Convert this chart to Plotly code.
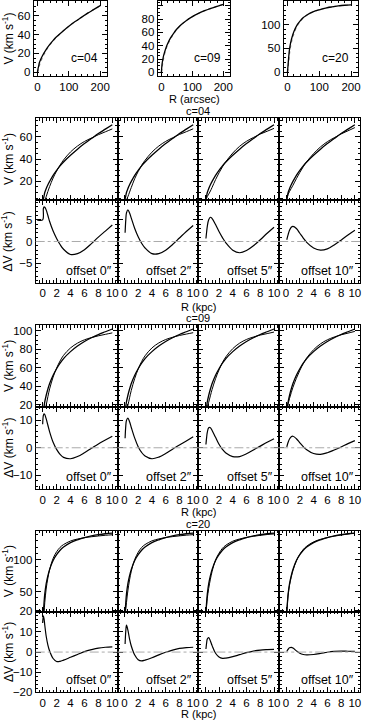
import plotly.graph_objects as go

W, H = 366, 726

# radii
R_ARCSEC = [0, 2, 4, 6, 10, 15, 20, 30, 40, 50, 60, 80, 100, 120, 140, 160, 180, 200]
R_KPC = [0, 0.1, 0.2, 0.3, 0.5, 0.75, 1, 1.5, 2, 2.5, 3, 4, 5, 6, 7, 8, 9, 10]
DV_R = [-0.8, 0.0, 0.1, 0.2, 0.3, 0.5, 0.75, 1, 1.5, 2, 2.5, 3, 4, 5, 6, 7, 8, 9, 10]

OFFSETS = ["offset 0″", "offset 2″", "offset 5″", "offset 10″"]

# model rotation curves (black) and the second curve of the top row (grey)
V_TRUE_04 = [0, 4, 7, 10, 13.5, 17, 20, 25.5, 30, 34, 37.5, 43.5, 49, 54, 58.5, 63, 67, 71]
V_TRUE_09 = [0, 12, 18, 23, 30, 37, 43, 52, 59, 65, 70, 77.5, 83.5, 88.5, 92.5, 96, 99, 102]
V_TRUE_20 = [0, 16, 33, 46, 62, 75, 85, 99, 108, 115, 120, 127, 131.5, 135, 137.5, 139.5, 141, 142]
V_GREY_04 = [0, 2, 4.5, 7, 11, 15, 18.5, 24.5, 29.5, 33.5, 37, 43.5, 49, 54, 58.5, 63, 67, 71]
V_GREY_09 = [0, 7, 13, 18.5, 27, 35, 41, 50.5, 58, 64.5, 69.5, 77.5, 83.5, 88.5, 92.5, 96, 99, 102]
V_GREY_20 = [0, 10, 24, 37, 55, 70, 81, 97, 107, 114.5, 119.5, 127, 131.5, 135, 137.5, 139.5, 141, 142]

# observed curves per offset
V_OBS_04 = [
    [0, -3.6, -1.0, 2.1, 6.2, 11.0, 15.4, 23.1, 29.3, 34.7, 39.3, 46.5, 51.8, 55.9, 59.0, 62.0, 64.6, 67.2],
    [0, 2.0, 2.0, 3.4, 6.2, 10.4, 14.6, 22.5, 28.9, 34.4, 39.0, 46.3, 51.8, 56.0, 59.2, 62.2, 64.7, 67.3],
    [0, 3.3, 4.8, 6.5, 8.5, 11.4, 14.7, 21.6, 27.7, 33.1, 37.8, 45.5, 51.6, 56.1, 59.5, 62.6, 65.1, 67.7],
    [0, 3.6, 6.0, 8.4, 10.9, 13.7, 16.5, 22.5, 28.1, 33.2, 37.7, 45.0, 51.0, 55.7, 59.3, 62.7, 65.5, 68.4],
]
V_OBS_09 = [
    [0, 0.2, 5.6, 10.9, 19.4, 28.8, 37.2, 50.0, 59.6, 67.4, 73.5, 81.5, 86.7, 90.3, 92.7, 94.6, 96.2, 97.8],
    [0, 8.5, 10.0, 13.0, 19.2, 27.5, 35.6, 48.5, 58.6, 66.7, 73.0, 81.5, 86.9, 90.6, 93.0, 95.0, 96.5, 98.0],
    [0, 10.8, 14.2, 17.4, 22.7, 29.7, 36.7, 48.2, 57.7, 65.6, 71.9, 80.7, 86.7, 90.7, 93.3, 95.4, 97.0, 98.7],
    [0, 11.7, 16.8, 21.0, 26.8, 33.0, 38.8, 48.7, 57.2, 64.6, 70.7, 79.6, 85.9, 90.3, 93.3, 95.7, 97.5, 99.4],
]
V_OBS_20 = [
    [0, -2.0, 16.5, 32.5, 54.0, 71.5, 84.5, 102.2, 112.7, 119.6, 124.0, 129.6, 132.7, 134.8, 136.3, 137.5, 138.6, 139.4],
    [0, 12.0, 22.5, 32.6, 51.0, 68.5, 82.0, 100.5, 111.8, 119.4, 124.0, 129.8, 132.9, 135.1, 136.5, 137.7, 138.8, 139.6],
    [0, 14.5, 28.5, 39.5, 54.8, 69.5, 81.8, 99.6, 110.4, 118.1, 123.0, 129.3, 132.8, 135.3, 137.0, 138.5, 139.8, 140.7],
    [0, 15.7, 32.1, 44.6, 59.9, 72.7, 83.0, 98.4, 108.6, 116.2, 121.4, 128.2, 132.2, 135.1, 137.2, 139.0, 140.6, 141.7],
]

# velocity differences per offset
DV_04 = [
    [5, 5, 7.6, 8.0, 7.9, 7.3, 6.0, 4.6, 2.4, 0.7, -0.7, -1.8, -3.0, -2.8, -1.9, -0.5, 1.0, 2.4, 3.8],
    [None, None, 2.0, 5.0, 6.6, 7.3, 6.6, 5.4, 3.0, 1.1, -0.4, -1.5, -2.8, -2.8, -2.0, -0.7, 0.8, 2.3, 3.7],
    [None, None, 0.7, 2.2, 3.5, 5.0, 5.6, 5.3, 3.9, 2.3, 0.9, -0.3, -2.0, -2.6, -2.1, -1.0, 0.4, 1.9, 3.3],
    [None, None, 0.4, 1.0, 1.6, 2.6, 3.3, 3.5, 3.0, 1.9, 0.8, -0.2, -1.5, -2.0, -1.7, -0.8, 0.3, 1.5, 2.6],
]
DV_09 = [
    [None, 8.6, 11.8, 12.4, 12.1, 10.6, 8.2, 5.8, 2.0, -0.6, -2.4, -3.5, -4.0, -3.2, -1.8, -0.2, 1.4, 2.8, 4.2],
    [None, None, 3.5, 8.0, 10.0, 10.8, 9.5, 7.4, 3.5, 0.4, -1.7, -3.0, -4.0, -3.4, -2.1, -0.5, 1.0, 2.5, 4.0],
    [None, None, 1.2, 3.8, 5.6, 7.3, 7.3, 6.3, 3.8, 1.3, -0.6, -1.9, -3.2, -3.2, -2.2, -0.8, 0.6, 2.0, 3.3],
    [None, None, 0.3, 1.2, 2.0, 3.2, 4.0, 4.2, 3.3, 1.8, 0.4, -0.7, -2.1, -2.4, -1.8, -0.8, 0.3, 1.5, 2.6],
]
DV_20 = [
    [None, 14.5, 18.0, 16.5, 13.5, 8.0, 3.5, 0.5, -3.2, -4.7, -4.6, -4.0, -2.6, -1.2, 0.2, 1.2, 2.0, 2.4, 2.6],
    [None, None, 4.0, 10.5, 13.4, 11.0, 6.5, 3.0, -1.5, -3.8, -4.4, -4.0, -2.8, -1.4, -0.1, 1.0, 1.8, 2.2, 2.4],
    [None, None, 1.5, 4.5, 6.5, 7.2, 5.5, 3.2, -0.6, -2.4, -3.1, -3.0, -2.3, -1.3, -0.3, 0.5, 1.0, 1.2, 1.3],
    [None, None, 0.3, 0.9, 1.4, 2.1, 2.3, 2.0, 0.6, -0.6, -1.2, -1.4, -1.2, -0.7, -0.1, 0.3, 0.5, 0.4, 0.3],
]

FONT = "Liberation Sans, Arial, sans-serif"
V_LABEL = "V (km s<sup>-1</sup>)"
DV_LABEL = "ΔV (km s<sup>-1</sup>)"


def xd(a, b):
    return [a / W, b / W]


def yd(top, bottom):
    return [1 - bottom / H, 1 - top / H]


def axis(domain, anchor, rng, tickvals, minor, labels=True):
    return dict(
        domain=domain, anchor=anchor, range=rng, tickvals=tickvals,
        showticklabels=labels, showline=True, linecolor="black", linewidth=1,
        mirror="ticks", ticks="inside", ticklen=5, tickcolor="black",
        showgrid=False, zeroline=False,
        minor=dict(dtick=minor, ticks="inside", ticklen=2.5, tickcolor="black"),
        tickfont=dict(size=11.5, color="black", family=FONT),
    )


fig = go.Figure()
layout = {}
annotations = []
shapes = []
n = [0]


def add_panel(xdom, ydom, xr, xt, xm, yr, yt, ym, xlab, ylab):
    n[0] += 1
    i = n[0]
    s = "" if i == 1 else str(i)
    layout["xaxis" + s] = axis(xdom, "y" + s, xr, xt, xm, xlab)
    layout["yaxis" + s] = axis(ydom, "x" + s, yr, yt, ym, ylab)
    return "x" + s, "y" + s


def text(x, y, t, size=12, xanchor="center", **kw):
    annotations.append(dict(x=x / W, y=1 - y / H, xref="paper", yref="paper", text=t,
                            xanchor=xanchor, yanchor="middle", showarrow=False,
                            font=dict(size=size, color="black", family=FONT), **kw))


# ---- top row: V against R in arcsec
TOP = [
    ("c=04", V_TRUE_04, V_GREY_04, (34, 108), [-4.5, 76], [0, 20, 40, 60], 5),
    ("c=09", V_TRUE_09, V_GREY_09, (159, 232), [-6, 107], [0, 20, 40, 60, 80, 100], 5),
    ("c=20", V_TRUE_20, V_GREY_20, (286, 361), [-9, 150], [0, 50, 100], 10),
]
for name, vt, vg, (a, b), yr, yt, ym in TOP:
    xa, ya = add_panel(xd(a, b), yd(1, 77), [-12, 222], [0, 100, 200], 20, yr, yt, ym, True, True)
    fig.add_trace(go.Scatter(x=R_ARCSEC, y=vg, xaxis=xa, yaxis=ya, mode="lines", line_shape="spline",
                             line=dict(color="#888888", width=1.2, dash="dot"), showlegend=False))
    fig.add_trace(go.Scatter(x=R_ARCSEC, y=vt, xaxis=xa, yaxis=ya, mode="lines", line_shape="spline",
                             line=dict(color="black", width=1.3), showlegend=False))
    text(b - 7, 58, name, xanchor="right")
text(8, 39, V_LABEL, textangle=-90)
text(196, 100, "R (arcsec)", size=11)

# ---- three groups of V / ΔV panels against R in kpc
COL_X = [36, 118.5, 200, 281.5, 363]
GROUPS = [
    ("c=04", V_TRUE_04, V_OBS_04, DV_04, (119, 202, 285, 310), [3, 77], [20, 40, 60], 5,
     [-9.5, 9.5], [-5, 0, 5], 1),
    ("c=09", V_TRUE_09, V_OBS_09, DV_09, (328, 410, 493, 516), [18, 106], [20, 40, 60, 80, 100], 5,
     [-15, 15], [-10, 0, 10], 2),
    ("c=20", V_TRUE_20, V_OBS_20, DV_20, (535, 617, 698, 720), [18, 146], [20, 50, 100], 10,
     [-20, 20], [-20, -10, 0, 10], 2),
]
XR = [-1.0, 10.75]
XT = [0, 2, 4, 6, 8, 10]
for name, vt, vobs, dvs, (top, mid, bot, rlab), vr, vtk, vm, dr, dtk, dm in GROUPS:
    text(200, top - 7, name, size=11)
    text(200, rlab, "R (kpc)", size=11)
    text(8, (top + mid) / 2, V_LABEL, textangle=-90)
    text(8, (mid + bot) / 2, DV_LABEL, textangle=-90)
    for k in range(4):
        a, b = COL_X[k], COL_X[k + 1]
        first = k == 0
        xa, ya = add_panel(xd(a, b), yd(top, mid), XR, XT, 0.5, vr, vtk, vm, False, first)
        fig.add_trace(go.Scatter(x=R_KPC, y=vobs[k], xaxis=xa, yaxis=ya, mode="lines", line_shape="spline",
                                 line=dict(color="black", width=1), showlegend=False))
        fig.add_trace(go.Scatter(x=R_KPC, y=vt, xaxis=xa, yaxis=ya, mode="lines", line_shape="spline",
                                 line=dict(color="black", width=1.3), showlegend=False))
        xa, ya = add_panel(xd(a, b), yd(mid, bot), XR, XT, 0.5, dr, dtk, dm, True, first)
        shapes.append(dict(type="line", xref=xa + " domain", x0=0, x1=1, yref=ya, y0=0, y1=0,
                           line=dict(color="#aaaaaa", width=1, dash="dashdot")))
        fig.add_trace(go.Scatter(x=DV_R, y=dvs[k], xaxis=xa, yaxis=ya, mode="lines", line_shape="spline",
                                 line=dict(color="black", width=1.2), showlegend=False))
        text(b - 4, bot - 12, OFFSETS[k], size=12.5, xanchor="right")

fig.update_layout(
    **layout,
    width=W, height=H,
    margin=dict(l=0, r=0, t=0, b=0),
    paper_bgcolor="white", plot_bgcolor="white",
    font=dict(family=FONT, size=12, color="black"),
    annotations=annotations,
    shapes=shapes,
    showlegend=False,
)
fig.write_html("out.html", config={"displayModeBar": False},
               post_script="document.body.style.margin='0';")
